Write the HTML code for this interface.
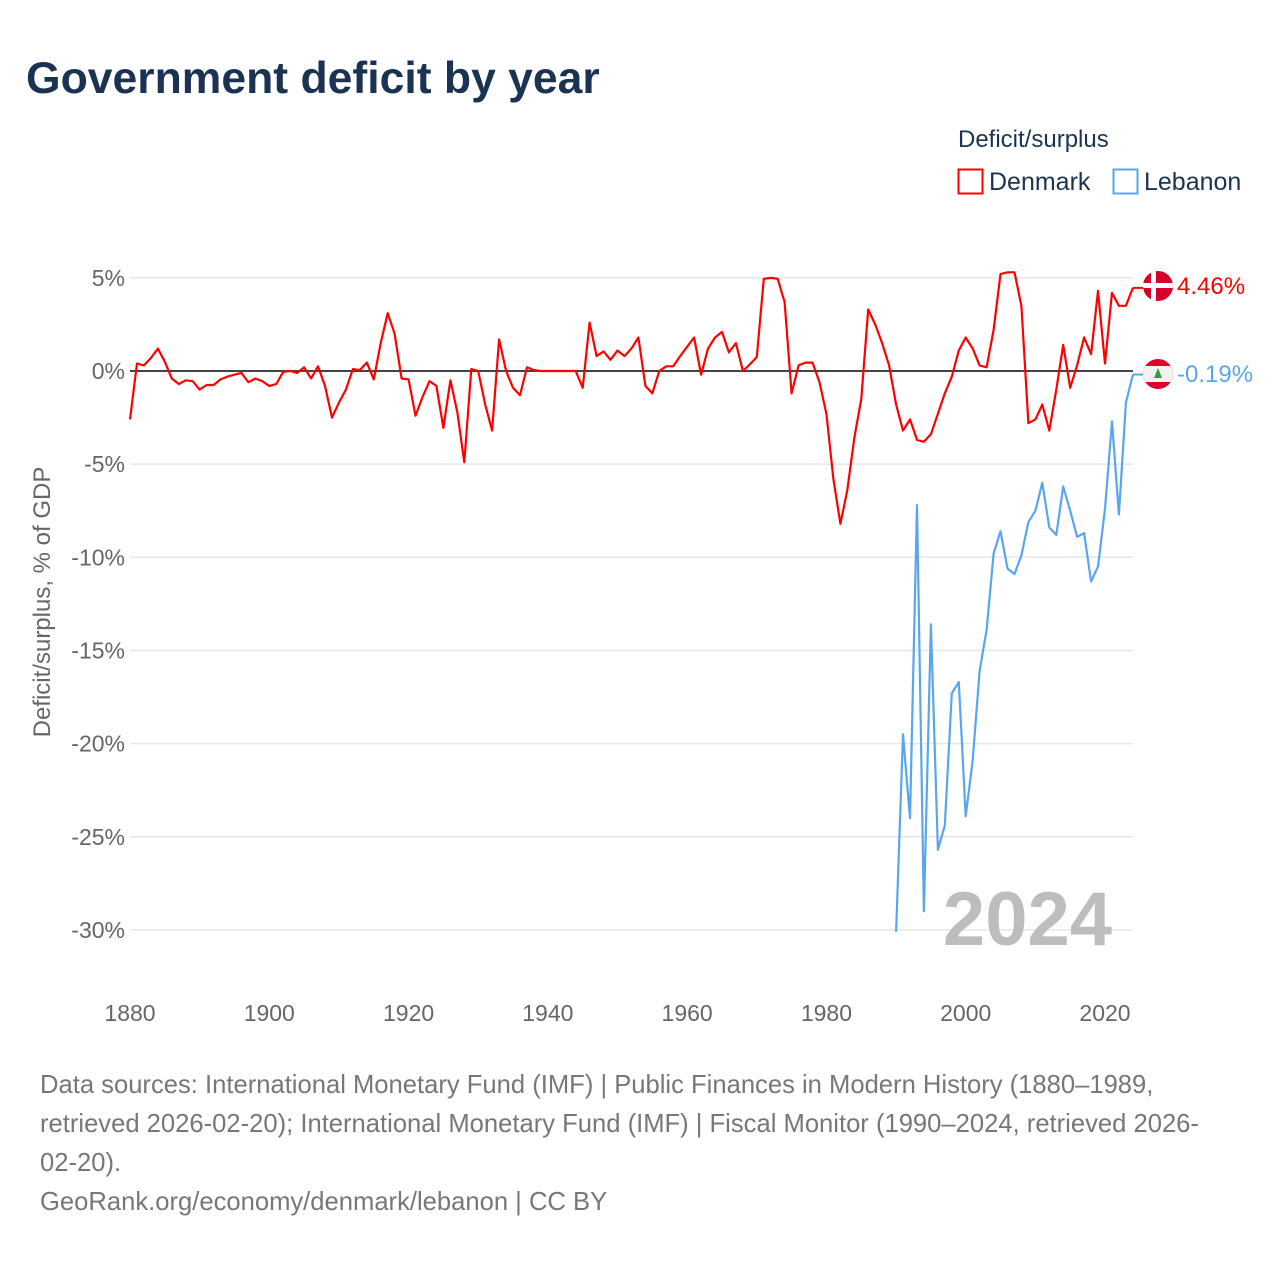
<!DOCTYPE html>
<html><head><meta charset="utf-8"><style>
body{margin:0;background:#fff;font-family:"Liberation Sans",sans-serif;}
#wrap{position:relative;width:1280px;height:1280px;overflow:hidden;}
</style></head><body>
<div id="wrap">
<svg id="chart" width="1280" height="1280" xmlns="http://www.w3.org/2000/svg">
<text x="26" y="93" font-size="44.5" font-weight="bold" fill="#1b3352">Government deficit by year</text>
<text x="958" y="147" font-size="24" fill="#1b3352">Deficit/surplus</text>
<g><rect x="958.5" y="169.5" width="24" height="24" fill="none" stroke="#ff0000" stroke-width="2"/><text x="989" y="190" font-size="25" fill="#1b3352">Denmark</text></g>
<g><rect x="1113.5" y="169.5" width="24" height="24" fill="none" stroke="#5aa6ee" stroke-width="2"/><text x="1144" y="190" font-size="25" fill="#1b3352">Lebanon</text></g>
<g id="grid"></g>
<g id="yticks"></g>
<g id="xticks"></g>
<text x="0" y="0" transform="translate(50,602) rotate(-90)" text-anchor="middle" font-size="24" fill="#666">Deficit/surplus, % of GDP</text>
<text x="1112" y="945" text-anchor="end" font-size="76" font-weight="bold" fill="#bdbdbd">2024</text>
<g id="series"></g>
<g>
<clipPath id="cd"><circle cx="1158" cy="286" r="15"/></clipPath>
<g clip-path="url(#cd)"><rect x="1140" y="268" width="36" height="36" fill="#d4002b"/><rect x="1140" y="283" width="36" height="5" fill="#fff"/><rect x="1151" y="268" width="5" height="36" fill="#fff"/></g></g>
<g>
<clipPath id="cl"><circle cx="1158" cy="374" r="15"/></clipPath>
<g clip-path="url(#cl)"><rect x="1140" y="356" width="36" height="36" fill="#e0002b"/><rect x="1140" y="366" width="36" height="16" fill="#f2f2f2"/><polygon points="1158,368 1154,378 1162,378" fill="#3a9a3a"/></g></g>
<text x="1177" y="294" font-size="24" fill="#ff0000">4.46%</text>
<text x="1177" y="382" font-size="24" fill="#5aa6ee">-0.19%</text>
<text font-size="25.6" fill="#777">
<tspan x="40" y="1093">Data sources: International Monetary Fund (IMF) | Public Finances in Modern History (1880–1989,</tspan>
<tspan x="40" y="1132">retrieved 2026-02-20); International Monetary Fund (IMF) | Fiscal Monitor (1990–2024, retrieved 2026-</tspan>
<tspan x="40" y="1171">02-20).</tspan>
<tspan x="40" y="1210">GeoRank.org/economy/denmark/lebanon | CC BY</tspan>
</text>
</svg>
</div>
<script>
const denmarkStartYear = 1880;
const denmarkValues = [-2.6,0.4,0.3,0.7,1.2,0.5,-0.4,-0.7,-0.5,-0.55,-1.0,-0.75,-0.75,-0.45,-0.3,-0.2,-0.1,-0.6,-0.4,-0.55,-0.8,-0.7,-0.05,0.0,-0.1,0.2,-0.4,0.25,-0.8,-2.5,-1.7,-1.0,0.1,0.05,0.45,-0.45,1.5,3.1,2.0,-0.4,-0.45,-2.4,-1.4,-0.55,-0.8,-3.05,-0.5,-2.2,-4.9,0.1,0.0,-1.8,-3.2,1.7,0.0,-0.9,-1.3,0.2,0.05,0,0,0,0,0,0,-0.9,2.6,0.8,1.05,0.6,1.1,0.8,1.2,1.8,-0.8,-1.2,0.0,0.25,0.25,0.8,1.3,1.8,-0.2,1.2,1.8,2.1,1.0,1.5,0.0,0.35,0.75,4.95,5.0,4.95,3.7,-1.2,0.3,0.45,0.45,-0.6,-2.3,-5.8,-8.2,-6.4,-3.6,-1.5,3.3,2.5,1.5,0.3,-1.8,-3.2,-2.6,-3.7,-3.8,-3.4,-2.3,-1.2,-0.3,1.1,1.8,1.2,0.3,0.2,2.2,5.2,5.3,5.3,3.5,-2.8,-2.6,-1.8,-3.2,-1.0,1.4,-0.9,0.3,1.8,0.9,4.3,0.4,4.2,3.5,3.5,4.46];
const lebanonStartYear = 1990;
const lebanonValues = [-30.1,-19.5,-24,-7.2,-29,-13.6,-25.7,-24.4,-17.3,-16.7,-23.9,-20.9,-16.1,-13.9,-9.8,-8.6,-10.6,-10.9,-9.9,-8.1,-7.5,-6.0,-8.4,-8.8,-6.2,-7.5,-8.9,-8.7,-11.3,-10.5,-7.4,-2.7,-7.7,-1.7,-0.19];
const yTickValues = [5,0,-5,-10,-15,-20,-25,-30];
const yTickLabels = ["5%","0%","-5%","-10%","-15%","-20%","-25%","-30%"];
const xTickYears = [1880,1900,1920,1940,1960,1980,2000,2020];

const NS="http://www.w3.org/2000/svg";
function xs(yr){return 130+(yr-1880)*(975/140);}
function ys(v){return 371-v*18.63;}
function mk(tag,attrs,parent){const e=document.createElementNS(NS,tag);for(const k in attrs)e.setAttribute(k,attrs[k]);parent.appendChild(e);return e;}
const grid=document.getElementById('grid'),yt=document.getElementById('yticks'),xt=document.getElementById('xticks'),ser=document.getElementById('series');
yTickValues.forEach((v,i)=>{
  if(v!==0){const l=mk('line',{x1:130,x2:1133,y1:ys(v),y2:ys(v),stroke:'#e6e6e6','stroke-width':1.5},grid);
  
  }
  const t=mk('text',{x:125,y:ys(v)+8,'text-anchor':'end','font-size':23,fill:'#666'},yt);
  t.textContent=yTickLabels[i];
  
  
});
xTickYears.forEach(yr=>{
  const t=mk('text',{x:xs(yr),y:1021,'text-anchor':'middle','font-size':23,fill:'#666'},xt);
  t.textContent=yr;
  
  
});
const zl=mk('line',{x1:130,x2:1133,y1:ys(0),y2:ys(0),stroke:'#444','stroke-width':2},grid);


function pts(start,vals){return vals.map((v,i)=>xs(start+i).toFixed(1)+','+ys(v).toFixed(1)).join(' ');}
const lb=mk('polyline',{points:pts(lebanonStartYear,lebanonValues),fill:'none',stroke:'#5aa6ee','stroke-width':2.2,'stroke-linejoin':'round'},ser);


const dk=mk('polyline',{points:pts(denmarkStartYear,denmarkValues),fill:'none',stroke:'#ff0000','stroke-width':2.2,'stroke-linejoin':'round'},ser);


const dlast=denmarkValues[denmarkValues.length-1], llast=lebanonValues[lebanonValues.length-1];
const c1=mk('line',{x1:xs(2024),x2:1143,y1:ys(dlast),y2:ys(dlast),stroke:'#ff0000','stroke-width':2},ser);


const c2=mk('line',{x1:xs(2024),x2:1143,y1:ys(llast),y2:ys(llast),stroke:'#5aa6ee','stroke-width':2},ser);


</script>
</body></html>
